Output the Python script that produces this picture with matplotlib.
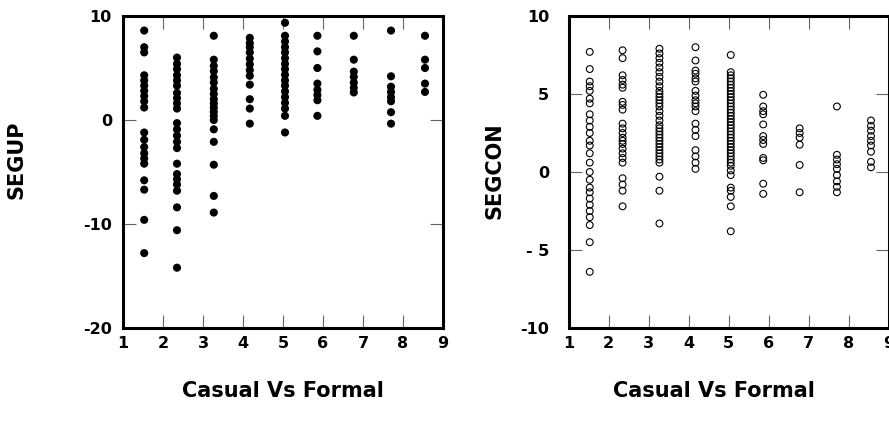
import matplotlib
matplotlib.use("Agg")
import matplotlib.pyplot as plt
import numpy as np

# Position of each "Casual Vs Formal" group on the x axis
casual_formal = [1.53, 2.35, 3.27, 4.17, 5.05, 5.86, 6.77, 7.70, 8.55]

# SEGUP scores for each group
segup = [
    [8.6, 7.0, 6.5, 4.3, 3.8, 3.3, 2.8, 2.3, 1.8, 1.2, -1.2, -1.9, -2.6, -3.2, -3.7,
     -4.2, -5.8, -6.7, -9.6, -12.8],
    [6.0, 5.4, 4.9, 4.3, 3.8, 3.3, 2.6, 2.1, 1.6, 1.1, -0.3, -0.9, -1.5, -2.1, -2.7,
     -4.2, -5.2, -5.7, -6.2, -6.8, -8.4, -10.6, -14.2],
    [8.1, 5.8, 5.2, 4.7, 4.1, 3.6, 3.0, 2.5, 2.0, 1.6, 1.2, 0.8, 0.4, 0.0, -0.9,
     -2.1, -4.3, -7.3, -8.9],
    [7.9, 7.4, 7.0, 6.5, 5.9, 5.35, 4.8, 4.25, 3.4, 2.0, 1.1, -0.35],
    [9.35, 8.1, 7.55, 7.0, 6.5, 5.95, 5.4, 4.9, 4.35, 3.8, 3.3, 2.75, 2.2, 1.65,
     1.1, 0.4, -1.2],
    [8.1, 6.6, 5.0, 3.5, 2.9, 2.4, 1.9, 0.4],
    [8.1, 5.8, 4.65, 4.15, 3.6, 3.1, 2.65],
    [8.6, 4.2, 3.2, 2.7, 2.2, 1.8, 0.75, -0.35],
    [8.1, 5.8, 5.0, 3.5, 2.7],
]

# SEGCON scores for each group
segcon = [
    [7.7, 6.6, 5.8, 5.5, 5.2, 4.7, 4.4, 3.7, 3.3, 2.9, 2.5, 2.0, 1.7, 1.2, 0.6,
     0.0, -0.5, -1.0, -1.3, -1.7, -2.1, -2.5, -2.9, -3.4, -4.5, -6.4],
    [7.8, 7.3, 6.2, 5.9, 5.6, 5.4, 4.5, 4.3, 4.0, 3.1, 2.8, 2.5, 2.2, 2.0, 1.8,
     1.5, 1.2, 0.9, 0.6, -0.4, -0.8, -1.2, -2.2],
    [7.9, 7.6, 7.3, 7.0, 6.7, 6.4, 6.1, 5.8, 5.5, 5.2, 5.0, 4.8, 4.6, 4.4, 4.2,
     3.9, 3.6, 3.3, 3.0, 2.8, 2.6, 2.4, 2.2, 2.0, 1.8, 1.6, 1.4, 1.2, 1.0, 0.8,
     0.6, -0.3, -1.2, -3.3],
    [8.0, 7.15, 6.5, 6.3, 6.0, 5.8, 5.2, 4.9, 4.6, 4.4, 4.2, 3.9, 3.1, 2.7, 2.3,
     1.4, 1.0, 0.6, 0.2],
    [7.5, 6.4, 6.2, 6.0, 5.8, 5.6, 5.4, 5.2, 5.0, 4.8, 4.6, 4.4, 4.2, 4.0, 3.8,
     3.6, 3.4, 3.2, 3.0, 2.8, 2.6, 2.4, 2.2, 2.0, 1.8, 1.6, 1.4, 1.2, 1.0, 0.8,
     0.6, 0.4, 0.1, -0.2, -1.0, -1.2, -1.6, -2.2, -3.8],
    [4.95, 4.2, 3.9, 3.7, 3.05, 2.3, 2.05, 1.8, 0.9, 0.75, -0.75, -1.4],
    [2.8, 2.5, 2.2, 1.75, 0.45, -1.3],
    [4.2, 1.1, 0.8, 0.5, 0.2, -0.2, -0.6, -0.95, -1.3],
    [3.3, 2.95, 2.65, 2.3, 2.0, 1.7, 1.3, 0.65, 0.3],
]

x_ticks = [1, 2, 3, 4, 5, 6, 7, 8, 9]
x_tick_labels = ["1", "2", "3", "4", "5", "6", "7", "8", "9"]
segup_ticks = [10, 0, -10, -20]
segup_tick_labels = ["10", "0", "-10", "-20"]
segcon_ticks = [10, 5, 0, -5, -10]
segcon_tick_labels = ["10", "5", "0", "- 5", "-10"]

x_title = "Casual Vs Formal"

plt.rcParams["font.family"] = ["DejaVu Sans"]
plt.rcParams["font.weight"] = "bold"

W, H = 889, 429
fig = plt.figure(figsize=(W / 100, H / 100), dpi=100)
fig.patch.set_facecolor("white")

ax1 = fig.add_axes([123 / W, (H - 328) / H, 320 / W, 312 / H])
ax2 = fig.add_axes([568.5 / W, (H - 328) / H, 320.5 / W, 312 / H])


def columns(groups):
    xs = np.concatenate([np.full(len(g), x) for x, g in zip(casual_formal, groups)])
    ys = np.concatenate([np.asarray(g, dtype=float) for g in groups])
    return xs, ys


xs1, ys1 = columns(segup)
ax1.scatter(xs1, ys1, s=34, c="black", edgecolors="none", zorder=3)

xs2, ys2 = columns(segcon)
ax2.scatter(xs2, ys2, s=24, facecolors="none", edgecolors="black",
            linewidths=0.8, zorder=3)


def style(ax, yticks, ylabels, ylim, ypad):
    ax.set_xlim(1, 9)
    ax.set_ylim(*ylim)
    ax.set_xticks(x_ticks)
    ax.set_xticklabels(x_tick_labels)
    ax.set_yticks(yticks)
    ax.set_yticklabels(ylabels)
    for sp in ax.spines.values():
        sp.set_linewidth(2.2)
        sp.set_color("black")
    ax.tick_params(axis="both", direction="in", length=9.5, width=0.8,
                   color="#666666", top=True, right=True, labelsize=11.5)
    ax.tick_params(axis="x", pad=6)
    ax.tick_params(axis="y", pad=ypad)
    for lab in ax.get_xticklabels() + ax.get_yticklabels():
        lab.set_fontweight("bold")


style(ax1, segup_ticks, segup_tick_labels, (-20, 10), 8)
style(ax2, segcon_ticks, segcon_tick_labels, (-10, 10), 14)

ax1.set_ylabel("SEGUP", fontsize=15, fontweight="bold")
ax1.yaxis.set_label_coords((26 - 123) / 320, (328 - 160) / 312)
ax2.set_ylabel("SEGCON", fontsize=15, fontweight="bold")
ax2.yaxis.set_label_coords((505 - 568.5) / 320.5, (328 - 171) / 312)

ax1.set_xlabel(x_title, fontsize=15, fontweight="bold")
ax1.xaxis.set_label_coords(0.5, -(381 - 328) / 312)
ax2.set_xlabel(x_title, fontsize=15, fontweight="bold")
ax2.xaxis.set_label_coords((714 - 568.5) / 320.5, -(381 - 328) / 312)

fig.savefig("out.png", dpi=100)
